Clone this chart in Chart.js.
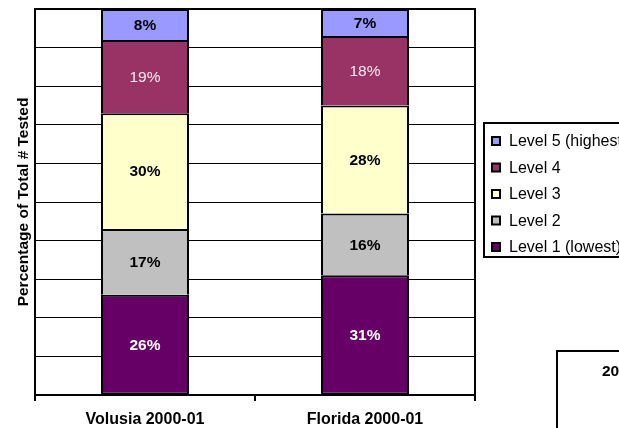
<!DOCTYPE html>
<html>
<head>
<meta charset="utf-8">
<script src="https://cdn.jsdelivr.net/npm/chart.js@4"></script>
<style>
  html, body { margin: 0; padding: 0; background: #fff; }
  #wrap { width: 619px; height: 428px; position: relative; }
</style>
</head>
<body>
<div id="wrap"><canvas id="chart" width="619" height="428"></canvas></div>
<script>
const FONT = '"Liberation Sans", Arial, sans-serif';

// data (percent of total tested)
const categories = ['Volusia 2000-01', 'Florida 2000-01'];
const levelNames = ['Level 1 (lowest)', 'Level 2', 'Level 3', 'Level 4', 'Level 5 (highest)'];
const level1 = [26, 31];
const level2 = [17, 16];
const level3 = [30, 28];
const level4 = [19, 18];
const level5 = [8, 7];
const yTicks = [0, 10, 20, 30, 40, 50, 60, 70, 80, 90, 100];

const fills = ['#660066', '#C0C0C0', '#FFFFCC', '#993366', '#9999FF'];
const labelColor = ['#ffffff', '#000000', '#000000', '#f4ecf0', '#000000'];
const labelWeight = ['bold', 'bold', 'bold', 'normal', 'bold'];

const series = [level1, level2, level3, level4, level5];
const datasets = series.map((d, i) => ({
  label: levelNames[i],
  data: d,
  backgroundColor: fills[i],
  borderColor: '#000',
  // each segment draws its own top edge, so shared edges stay 2px
  borderWidth: { left: 2, right: 2, top: 2, bottom: i === 0 ? 2 : 0 },
  borderSkipped: false,
  barPercentage: 0.4,
  categoryPercentage: 1.0
}));

// value labels in the middle of each segment
const segLabels = {
  id: 'segLabels',
  afterDatasetsDraw(chart) {
    const ctx = chart.ctx;
    ctx.save();
    ctx.textAlign = 'center';
    ctx.textBaseline = 'middle';
    chart.data.datasets.forEach((ds, i) => {
      const meta = chart.getDatasetMeta(i);
      ctx.fillStyle = labelColor[i];
      ctx.font = labelWeight[i] + ' 15.5px ' + FONT;
      meta.data.forEach((bar, j) => {
        const cy = (bar.y + bar.base) / 2;
        ctx.fillText(ds.data[j] + '%', bar.x, cy + 1);
      });
    });
    ctx.restore();
  }
};

// plot frame, legend box and the clipped title box
const extras = {
  id: 'extras',
  afterDraw(chart) {
    const ctx = chart.ctx;
    const a = chart.chartArea;
    ctx.save();
    ctx.strokeStyle = '#000';
    ctx.lineWidth = 2;
    ctx.strokeRect(a.left, a.top, a.right - a.left, a.bottom - a.top);

    // legend (reversed order, top = level 5)
    const lx = 484, ly = 123;
    ctx.strokeRect(lx, ly, 150, 134);
    ctx.font = '16px ' + FONT;
    ctx.textAlign = 'left';
    ctx.textBaseline = 'middle';
    const n = chart.data.datasets.length;
    for (let k = 0; k < n; k++) {
      const i = n - 1 - k;
      const ds = chart.data.datasets[i];
      const cy = 141 + k * 26.5;
      ctx.fillStyle = ds.backgroundColor;
      ctx.fillRect(492, cy - 4, 8, 8);
      ctx.lineWidth = 2;
      ctx.strokeStyle = '#000';
      ctx.strokeRect(492, cy - 4, 8, 8);
      ctx.fillStyle = '#000';
      ctx.fillText(ds.label, 509, cy + 1);
    }

    // title box at lower right, mostly outside the picture
    ctx.lineWidth = 2;
    ctx.strokeRect(557, 351, 120, 120);
    ctx.font = 'bold 15.5px ' + FONT;
    ctx.fillStyle = '#000';
    ctx.fillText('2000-01 FCAT', 602, 372);
    ctx.restore();
  }
};

new Chart(document.getElementById('chart'), {
  type: 'bar',
  data: { labels: categories, datasets },
  options: {
    responsive: false,
    animation: false,
    devicePixelRatio: 1,
    layout: { padding: { left: 0, top: 9, right: 144, bottom: 0 } },
    plugins: { legend: { display: false }, tooltip: { enabled: false } },
    scales: {
      x: {
        stacked: true,
        grid: { drawOnChartArea: false, drawTicks: true, tickLength: 6, color: '#000', lineWidth: 2 },
        border: { display: true, color: '#000', width: 2 },
        ticks: { color: '#000', font: { family: FONT, size: 16, weight: 'bold' }, padding: 9 },
        afterFit(s) { s.height = 33; }
      },
      y: {
        stacked: true,
        min: yTicks[0],
        max: yTicks[yTicks.length - 1],
        afterBuildTicks(s) { s.ticks = yTicks.map(v => ({ value: v })); },
        ticks: { display: false },
        grid: { color: '#000', lineWidth: 1, drawTicks: false },
        border: { display: true, color: '#000', width: 2 },
        title: {
          display: true,
          text: 'Percentage of Total # Tested',
          color: '#000',
          font: { family: FONT, size: 15.5, weight: 'bold' },
          padding: { top: 14, bottom: 0 }
        },
        afterFit(s) { s.width = 35; }
      }
    }
  },
  plugins: [segLabels, extras]
});
</script>
</body>
</html>
